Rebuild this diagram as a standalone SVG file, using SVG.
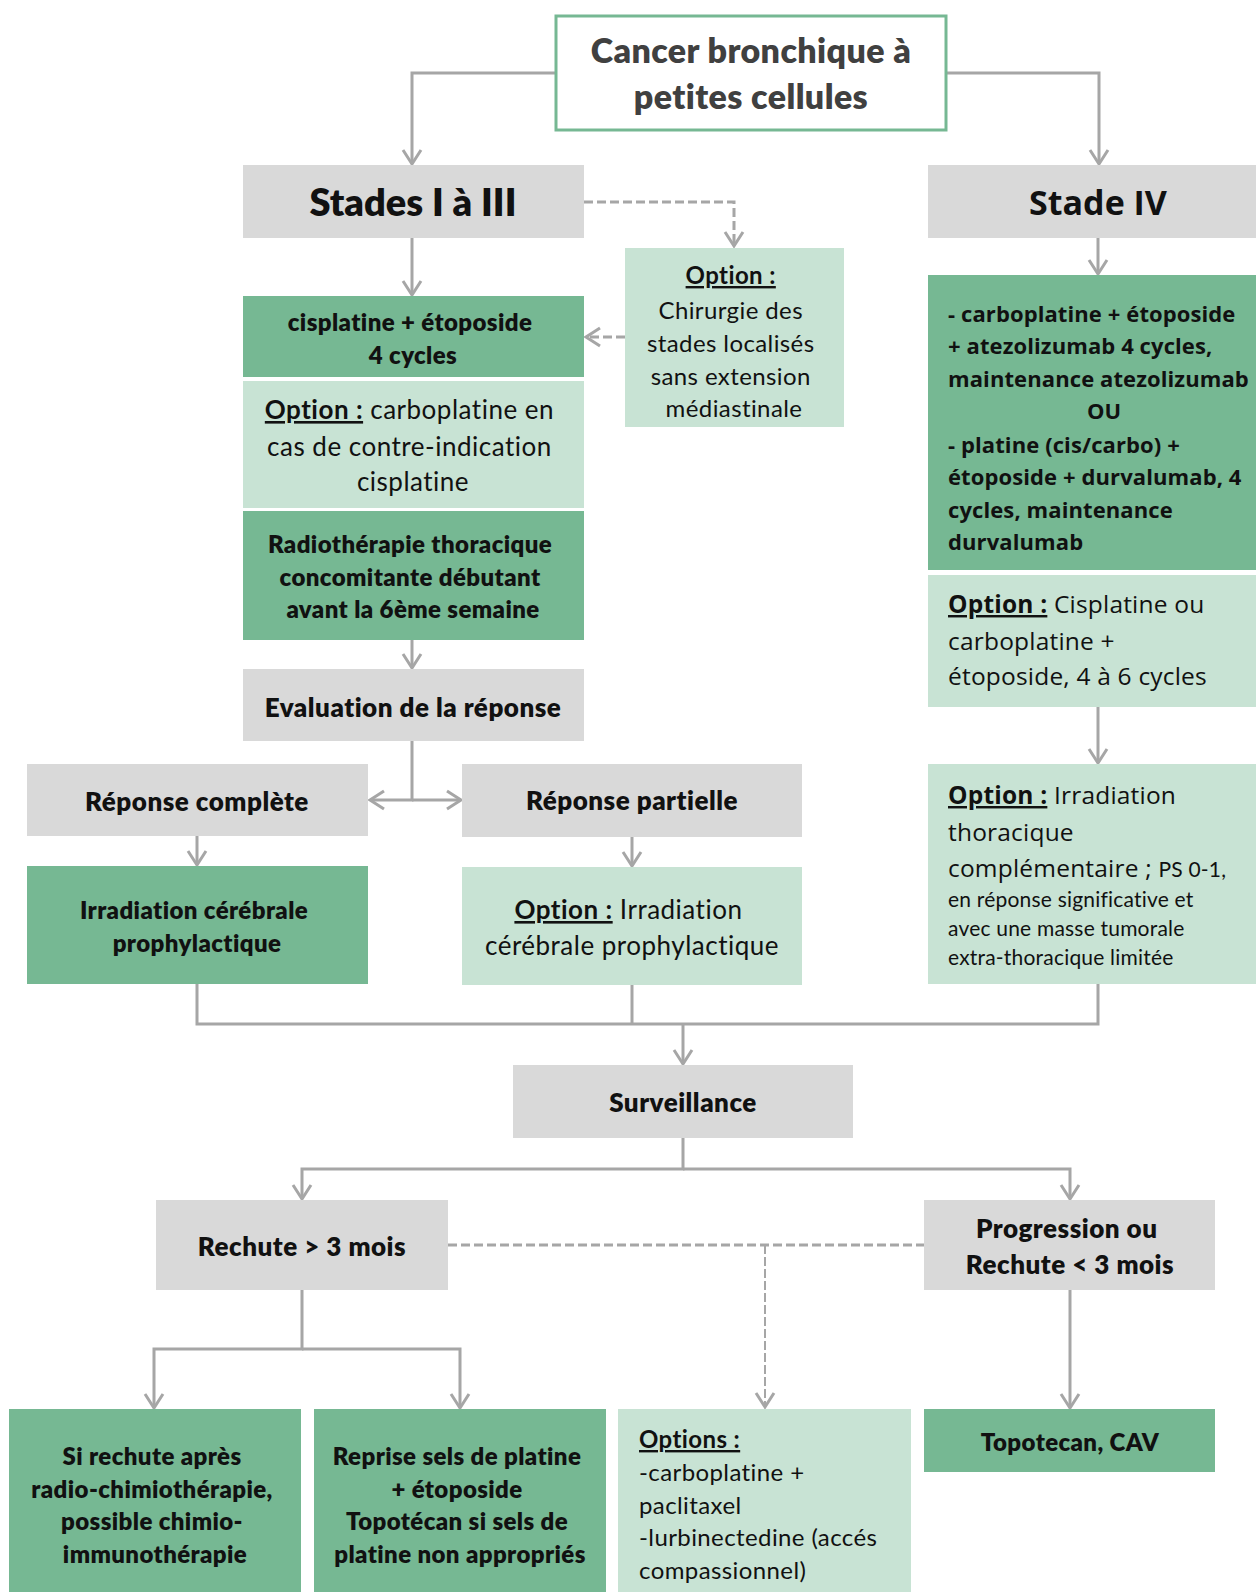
<svg xmlns="http://www.w3.org/2000/svg" width="1256" height="1592" viewBox="0 0 1256 1592">
<defs>
<style>
.dk{fill:#76b893}
.lt{fill:#c8e3d4}
.gr{fill:#d9d9d9}
.c{font-family:Lato,"Liberation Sans",sans-serif;fill:#111}
.o{font-family:"Open Sans","Liberation Sans",sans-serif;fill:#111}
.b{font-weight:bold}
.c.b{font-weight:800}
.m{text-anchor:middle}
.ln{fill:none;stroke:#a6a6a6;stroke-width:3}
.ds{fill:none;stroke:#a6a6a6;stroke-width:3;stroke-dasharray:9 4}
.ds2{fill:none;stroke:#a6a6a6;stroke-width:2;stroke-dasharray:9 3}
.u{text-decoration:underline}
.s22{font-size:24px;letter-spacing:0.4px}
.s24{font-size:26px;letter-spacing:0.5px}
</style>
<marker id="a" markerWidth="24" markerHeight="24" viewBox="-20 -12 24 24" refX="0" refY="0" orient="auto" markerUnits="userSpaceOnUse">
<path d="M-14,-9 L0,0 L-14,9" fill="none" stroke="#a6a6a6" stroke-width="3"/>
</marker>
</defs>
<rect width="1256" height="1592" fill="#fff"/>

<g id="connectors">
<path class="ln" d="M556,73 H412 V164" marker-end="url(#a)"/>
<path class="ln" d="M946,73 H1099 V164" marker-end="url(#a)"/>
<path class="ds" d="M584,202 H734 V246" marker-end="url(#a)"/>
<path class="ds" d="M625,337 H586" marker-end="url(#a)"/>
<path class="ln" d="M412,238 V295" marker-end="url(#a)"/>
<path class="ln" d="M412,640 V668" marker-end="url(#a)"/>
<path class="ln" d="M412,741 V800 H370" marker-end="url(#a)"/>
<path class="ln" d="M412,800 H461" marker-end="url(#a)"/>
<path class="ln" d="M197,836 V865" marker-end="url(#a)"/>
<path class="ln" d="M632,837 V866" marker-end="url(#a)"/>
<path class="ln" d="M1098,238 V274" marker-end="url(#a)"/>
<path class="ln" d="M1098,707 V763" marker-end="url(#a)"/>
<path class="ln" d="M197,984 V1024 H1098 V984"/>
<path class="ln" d="M632,985 V1024"/>
<path class="ln" d="M683,1024 V1064" marker-end="url(#a)"/>
<path class="ln" d="M683,1138 V1169 H302 V1199" marker-end="url(#a)"/>
<path class="ln" d="M683,1169 H1070 V1199" marker-end="url(#a)"/>
<path class="ds" d="M448,1245 H924"/>
<path class="ds2" d="M765,1245 V1407" marker-end="url(#a)"/>
<path class="ln" d="M302,1290 V1349 H154 V1408" marker-end="url(#a)"/>
<path class="ln" d="M302,1349 H460 V1408" marker-end="url(#a)"/>
<path class="ln" d="M1070,1290 V1408" marker-end="url(#a)"/>
</g>

<g id="n-top">
<rect x="556" y="16" width="390" height="114" fill="#fff" stroke="#76b893" stroke-width="3"/>
<text class="c b m" x="751" y="63" font-size="34" letter-spacing="0.4" style="fill:#404040">Cancer bronchique à</text>
<text class="c b m" x="751" y="109" font-size="34" letter-spacing="0.4" style="fill:#404040">petites cellules</text>
</g>

<g id="n-stades13">
<rect class="gr" x="243" y="165" width="341" height="73"/>
<text class="c b m" x="413" y="216" font-size="38">Stades I à III</text>
</g>

<g id="n-stade4">
<rect class="gr" x="928" y="165" width="328" height="73"/>
<text class="o b m" x="1098" y="215" font-size="34">Stade IV</text>
</g>

<g id="n-opt-chir">
<rect class="lt" x="625" y="248" width="219" height="179"/>
<text class="c m s22">
<tspan class="b u" x="734" y="284">Option :</tspan>
<tspan x="734" y="319">Chirurgie des</tspan>
<tspan x="734" y="352">stades localisés</tspan>
<tspan x="734" y="385">sans extension</tspan>
<tspan x="734" y="417">médiastinale</tspan>
</text>
</g>

<g id="n-cispl">
<rect class="dk" x="243" y="296" width="341" height="81"/>
<text class="c b m s22">
<tspan x="413" y="331">cisplatine + étoposide</tspan>
<tspan x="413" y="364">4 cycles</tspan>
</text>
</g>

<g id="n-opt-carbo">
<rect class="lt" x="243" y="381" width="341" height="127"/>
<text class="c m s24">
<tspan x="413" y="419"><tspan class="b u">Option :</tspan> carboplatine en</tspan>
<tspan x="413" y="456">cas de contre-indication</tspan>
<tspan x="413" y="491">cisplatine</tspan>
</text>
</g>

<g id="n-radio">
<rect class="dk" x="243" y="511" width="341" height="129"/>
<text class="c b m s22">
<tspan x="413" y="553">Radiothérapie thoracique</tspan>
<tspan x="413" y="586">concomitante débutant</tspan>
<tspan x="413" y="618">avant la 6ème semaine</tspan>
</text>
</g>

<g id="n-eval">
<rect class="gr" x="243" y="669" width="341" height="72"/>
<text class="c b m s24" x="413" y="717">Evaluation de la réponse</text>
</g>

<g id="n-rc">
<rect class="gr" x="27" y="764" width="341" height="72"/>
<text class="c b m s24" x="197" y="811">Réponse complète</text>
</g>

<g id="n-rp">
<rect class="gr" x="462" y="764" width="340" height="73"/>
<text class="c b m s24" x="632" y="810">Réponse partielle</text>
</g>

<g id="n-icp">
<rect class="dk" x="27" y="866" width="341" height="118"/>
<text class="c b m s22">
<tspan x="197" y="919">Irradiation cérébrale</tspan>
<tspan x="197" y="952">prophylactique</tspan>
</text>
</g>

<g id="n-opt-icp">
<rect class="lt" x="462" y="867" width="340" height="118"/>
<text class="c m s24">
<tspan x="632" y="919"><tspan class="b u">Option :</tspan> Irradiation</tspan>
<tspan x="632" y="955">cérébrale prophylactique</tspan>
</text>
</g>

<g id="n-s4-trt">
<rect class="dk" x="928" y="275" width="328" height="295"/>
<text class="o b" font-size="22" letter-spacing="0.1">
<tspan x="948" y="322">- carboplatine + étoposide</tspan>
<tspan x="948" y="354">+ atezolizumab 4 cycles,</tspan>
<tspan x="948" y="387">maintenance atezolizumab</tspan>
<tspan x="1107" y="419" text-anchor="middle">OU</tspan>
<tspan x="948" y="453">- platine (cis/carbo) +</tspan>
<tspan x="948" y="485">étoposide + durvalumab, 4</tspan>
<tspan x="948" y="518">cycles, maintenance</tspan>
<tspan x="948" y="550">durvalumab</tspan>
</text>
</g>

<g id="n-s4-opt">
<rect class="lt" x="928" y="575" width="328" height="132"/>
<text class="o" font-size="24.5" letter-spacing="0.2">
<tspan x="948" y="613"><tspan class="b u">Option :</tspan> Cisplatine ou</tspan>
<tspan x="948" y="650">carboplatine +</tspan>
<tspan x="948" y="685">étoposide, 4 à 6 cycles</tspan>
</text>
</g>

<g id="n-s4-irr">
<rect class="lt" x="928" y="764" width="328" height="220"/>
<text class="o" font-size="24.5" letter-spacing="0.2">
<tspan x="948" y="804"><tspan class="b u">Option :</tspan> Irradiation</tspan>
<tspan x="948" y="841">thoracique</tspan>
<tspan x="948" y="877">complémentaire ; <tspan class="c" font-size="21" letter-spacing="0.2">PS 0-1,</tspan></tspan>
</text>
<text class="c" font-size="21" letter-spacing="0.2">
<tspan x="948" y="907">en réponse significative et</tspan>
<tspan x="948" y="936">avec une masse tumorale</tspan>
<tspan x="948" y="965">extra-thoracique limitée</tspan>
</text>
</g>

<g id="n-surv">
<rect class="gr" x="513" y="1065" width="340" height="73"/>
<text class="c b m s24" x="683" y="1112">Surveillance</text>
</g>

<g id="n-rech">
<rect class="gr" x="156" y="1200" width="292" height="90"/>
<text class="c b m s24" x="302" y="1256">Rechute &gt; 3 mois</text>
</g>

<g id="n-prog">
<rect class="gr" x="924" y="1200" width="291" height="90"/>
<text class="c b m s24">
<tspan x="1070" y="1238">Progression ou</tspan>
<tspan x="1070" y="1274">Rechute &lt; 3 mois</tspan>
</text>
</g>

<g id="n-b1">
<rect class="dk" x="9" y="1409" width="292" height="183"/>
<text class="c b m s22">
<tspan x="155" y="1465">Si rechute après</tspan>
<tspan x="155" y="1498">radio-chimiothérapie,</tspan>
<tspan x="155" y="1530">possible chimio-</tspan>
<tspan x="155" y="1563">immunothérapie</tspan>
</text>
</g>

<g id="n-b2">
<rect class="dk" x="314" y="1409" width="292" height="183"/>
<text class="c b m s22">
<tspan x="460" y="1465">Reprise sels de platine</tspan>
<tspan x="460" y="1498">+ étoposide</tspan>
<tspan x="460" y="1530">Topotécan si sels de</tspan>
<tspan x="460" y="1563">platine non appropriés</tspan>
</text>
</g>

<g id="n-b3">
<rect class="lt" x="618" y="1409" width="293" height="183"/>
<text class="c s22">
<tspan class="b u" x="639" y="1448">Options :</tspan>
<tspan x="639" y="1481">-carboplatine +</tspan>
<tspan x="639" y="1514">paclitaxel</tspan>
<tspan x="639" y="1546">-lurbinectedine (accés</tspan>
<tspan x="639" y="1579">compassionnel)</tspan>
</text>
</g>

<g id="n-b4">
<rect class="dk" x="924" y="1409" width="291" height="63"/>
<text class="c b m s22" x="1070" y="1451">Topotecan, CAV</text>
</g>
</svg>
